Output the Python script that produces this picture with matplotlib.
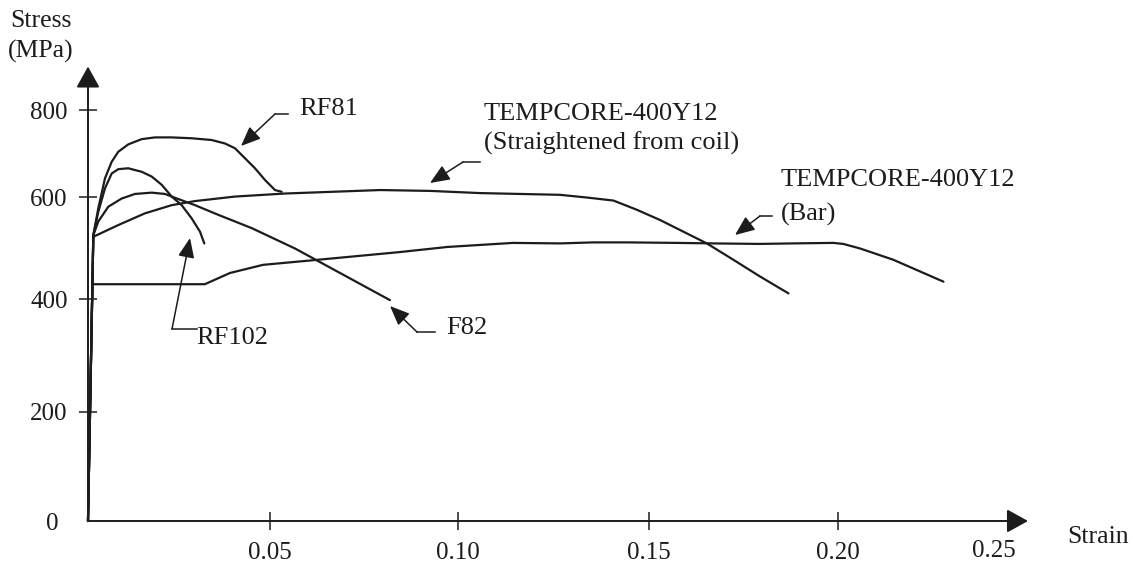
import numpy as np
import matplotlib
matplotlib.use("Agg")
import matplotlib.pyplot as plt

plt.rcParams['font.family'] = ['Liberation Serif', 'DejaVu Serif']

# stress-strain curves
rf81_strain = [0, 0.00146, 0.00283, 0.00467, 0.00651, 0.00832, 0.01107, 0.01475, 0.01841,
               0.02299, 0.02849, 0.03398, 0.03764, 0.04038, 0.04313, 0.04588, 0.04863,
               0.05133, 0.05311]
rf81_stress = [0, 525, 578, 643, 681, 704, 721, 733, 737, 737, 735, 731, 723, 712, 689,
               666, 639, 616, 612]

rf102_strain = [0, 0.00146, 0.00283, 0.00467, 0.00651, 0.00832, 0.01107, 0.01475, 0.0175,
                0.02025, 0.02299, 0.02574, 0.02849, 0.03077, 0.03195]
rf102_stress = [0, 525, 571, 620, 654, 664, 666, 658, 647, 628, 601, 584, 558, 532, 509]

f82_strain = [0, 0.00146, 0.00283, 0.00558, 0.00925, 0.01291, 0.0175, 0.02115, 0.02481,
              0.02939, 0.0358, 0.04497, 0.05665, 0.0819]
f82_stress = [0, 525, 552, 581, 597, 607, 610, 607, 596, 584, 565, 539, 499, 398]

coil_strain = [0, 0.00146, 0.00832, 0.01566, 0.02299, 0.02939, 0.04038, 0.054, 0.0793,
               0.0926, 0.1058, 0.1267, 0.1337, 0.1407, 0.1468, 0.1529, 0.1591, 0.1653,
               0.1723, 0.1794, 0.1869]
coil_stress = [0, 522, 545, 568, 584, 592, 601, 608, 616, 614, 609, 605, 599, 593, 575,
               555, 532, 509, 477, 444, 411]

bar_strain = [0, 0.0012, 0.0321, 0.039, 0.0481, 0.0614, 0.0845, 0.0971, 0.1144, 0.1267,
              0.1355, 0.1442, 0.1573, 0.167, 0.1793, 0.1881, 0.1987, 0.2017, 0.2071,
              0.2177, 0.2263, 0.2338]
bar_stress = [0, 429, 429, 451, 467, 476, 492, 502, 510, 509, 511, 511, 510, 509, 508,
              509, 510, 508, 499, 477, 454, 434]

xticks = [0.05, 0.10, 0.15, 0.20]
xtick_labels = ['0.05', '0.10', '0.15', '0.20']
yticks = [200, 400, 600, 800]
ytick_labels = ['200', '400', '600', '800']

# the drawing's tick spacing is uneven, so the scales follow it piecewise
x_cal = [0, 0.05, 0.10, 0.15, 0.20, 0.25, 0.30]
x_cal_px = [0, 182, 370, 561, 750, 906, 1062]
y_cal = [0, 200, 400, 600, 800, 1000]
y_cal_px = [0, 109, 222, 324, 411, 498]

def fx(v):
    return np.interp(v, x_cal, x_cal_px)

def ix(p):
    return np.interp(p, x_cal_px, x_cal)

def fy(v):
    return np.interp(v, y_cal, y_cal_px)

def iy(p):
    return np.interp(p, y_cal_px, y_cal)

W, H = 1133, 569
fig = plt.figure(figsize=(W / 100, H / 100), dpi=100)
ax = fig.add_axes([88 / W, 48 / H, 940 / W, 454.5 / H])
ax.set_xscale('function', functions=(fx, ix))
ax.set_yscale('function', functions=(fy, iy))
ax.set_xlim(0, ix(940))
ax.set_ylim(0, iy(454.5))

ink = '#1c1c1c'
for xs, ys in [(rf81_strain, rf81_stress), (rf102_strain, rf102_stress),
               (f82_strain, f82_stress), (coil_strain, coil_stress),
               (bar_strain, bar_stress)]:
    ax.plot(xs, ys, color=ink, lw=1.6, solid_joinstyle='round', solid_capstyle='round',
            clip_on=False)

for s in ax.spines.values():
    s.set_visible(False)

# axes drawn as arrows
arr = dict(arrowstyle='-|>,head_length=1.3,head_width=0.72', color=ink, lw=1.4,
           mutation_scale=10, shrinkA=0, shrinkB=0)
ax.annotate('', xy=(1, 0), xytext=(0, 0), xycoords='axes fraction', arrowprops=arr)
ax.annotate('', xy=(0, 1), xytext=(0, 0), xycoords='axes fraction', arrowprops=arr)

ax.set_xticks(xticks)
ax.set_xticklabels(xtick_labels)
ax.set_xticks([0.25], minor=True)
ax.set_xticklabels(['0.25'], minor=True)
ax.set_yticks(yticks)
ax.set_yticklabels(ytick_labels)
ax.set_yticks([0], minor=True)
ax.set_yticklabels(['0'], minor=True)
ax.tick_params(which='major', direction='inout', length=13, width=1.1, color=ink,
               labelsize=18, labelcolor=ink)
ax.tick_params(axis='x', which='major', pad=8.5)
ax.tick_params(axis='y', which='major', pad=8)
ax.tick_params(which='minor', length=0, labelsize=18, labelcolor=ink)
ax.tick_params(axis='x', which='minor', pad=14)
ax.tick_params(axis='y', which='minor', pad=21)

def px(x, y):
    return (x / W, 1 - y / H)

fig.text(*px(10, 21), 'Stress', fontsize=18.5, color=ink, va='center', ha='left')
fig.text(*px(8, 51), '(MPa)', fontsize=18.5, color=ink, va='center', ha='left')
fig.text(*px(1067, 537), 'Strain', fontsize=18.5, color=ink, va='center', ha='left')

head = dict(arrowstyle='-|>,head_length=1.2,head_width=0.5', color=ink, lw=1.1,
            mutation_scale=10, shrinkA=0, shrinkB=0)

def callout(lines, text_xy, line_gap, start, corner, tip):
    for i, t in enumerate(lines):
        fig.text(*px(text_xy[0], text_xy[1] + i * line_gap), t, fontsize=19,
                 color=ink, va='center', ha='left')
    fig.add_artist(plt.Line2D([px(*start)[0], px(*corner)[0]],
                              [px(*start)[1], px(*corner)[1]],
                              transform=fig.transFigure, color=ink, lw=1.1))
    ax.annotate('', xy=px(*tip), xytext=px(*corner), xycoords='figure fraction',
                textcoords='figure fraction', arrowprops=head)

callout(['RF81'], (299, 109), 0, (288, 114), (275, 114), (241, 146))
callout(['TEMPCORE-400Y12', '(Straightened from coil)'], (484, 114), 29,
        (480, 162), (463, 162), (430, 183))
callout(['TEMPCORE-400Y12', '(Bar)'], (781, 180), 34, (772, 216), (760, 216), (735, 235))
callout(['RF102'], (196, 338), 0, (197, 329), (172, 329), (190, 238))
callout(['F82'], (446, 328), 0, (435, 332), (417, 332), (390, 306))

fig.savefig('out.png', dpi=100)
